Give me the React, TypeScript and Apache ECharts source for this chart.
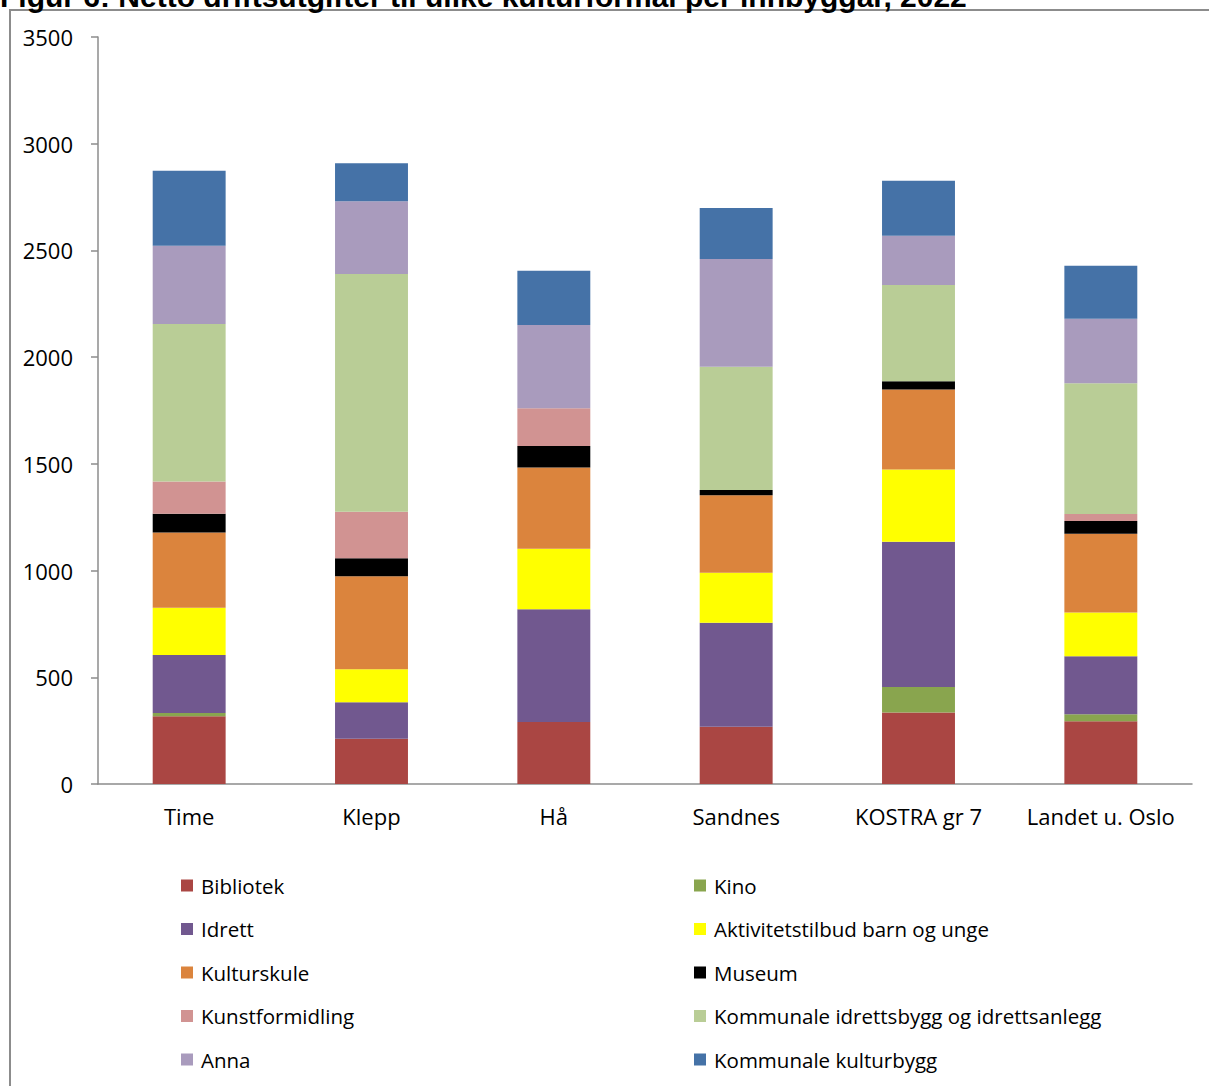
import React, { useEffect, useRef } from "react";
import * as echarts from "echarts";

const categories = ["Time", "Klepp", "Hå", "Sandnes", "KOSTRA gr 7", "Landet u. Oslo"];
const seriesNames = [
  "Bibliotek",
  "Kino",
  "Idrett",
  "Aktivitetstilbud barn og unge",
  "Kulturskule",
  "Museum",
  "Kunstformidling",
  "Kommunale idrettsbygg og idrettsanlegg",
  "Anna",
  "Kommunale kulturbygg",
];
const bibliotek = [317, 212, 291, 268, 335, 294];
const kino = [16, 0, 0, 0, 120, 33];
const idrett = [272, 171, 528, 488, 680, 271];
const aktivitet = [221, 155, 283, 234, 338, 206];
const kulturskule = [352, 435, 381, 363, 375, 368];
const museum = [88, 85, 101, 25, 39, 60];
const kunstformidling = [151, 218, 176, 0, 0, 33];
const idrettsbygg = [738, 1113, 0, 577, 451, 613];
const anna = [367, 342, 391, 505, 231, 302];
const kulturbygg = [351, 178, 254, 239, 258, 248];
const yTicks = [0, 500, 1000, 1500, 2000, 2500, 3000, 3500];
const title = "Figur 6: Netto driftsutgifter til ulike kulturformål per innbyggar, 2022";

const seriesData = [bibliotek, kino, idrett, aktivitet, kulturskule, museum, kunstformidling, idrettsbygg, anna, kulturbygg];
const colors = ["#AA4643", "#89A54E", "#71588F", "#FFFF00", "#DB843D", "#000000", "#D19392", "#B9CD96", "#A99BBD", "#4572A7"];

export default function App() {
  const ref = useRef<HTMLDivElement>(null);
  useEffect(() => {
    document.body.style.margin = "0";
    const chart = echarts.init(ref.current!, null, { renderer: "svg" });
    const font = "'Open Sans', sans-serif";
    const legendCommon = {
      orient: "vertical",
      icon: "rect",
      itemWidth: 12,
      itemHeight: 12,
      itemGap: 22.5,
      textStyle: { fontSize: 20.5, fontFamily: font, color: "#000", lineHeight: 20, padding: [0, 0, 0, 3] },
      selectedMode: false,
    };
    chart.setOption({
      animation: false,
      color: colors,
      graphic: [
        {
          type: "rect",
          shape: { x: 10, y: 10, width: 1220, height: 1100 },
          style: { fill: "none", stroke: "#8c8c8c", lineWidth: 2 },
          silent: true,
        },
        {
          type: "text",
          x: 0,
          y: 11,
          style: {
            text: title,
            font: "bold 30px 'Liberation Sans', Arial, sans-serif",
            fill: "#000",
            verticalAlign: "bottom",
          },
        },
      ],
      grid: { left: 98, top: 37, right: 17, bottom: 302 },
      legend: [
        { ...legendCommon, left: 176, top: 870, data: seriesNames.filter((_, i) => i % 2 === 0) },
        { ...legendCommon, left: 689, top: 870, data: seriesNames.filter((_, i) => i % 2 === 1) },
      ],
      xAxis: {
        type: "category",
        data: categories,
        axisLine: { lineStyle: { color: "#8c8c8c", width: 1.5 } },
        axisTick: { length: 7, lineStyle: { color: "#8c8c8c", width: 1.5 } },
        axisLabel: { fontSize: 22, fontFamily: font, color: "#000", margin: 21, interval: 0 },
      },
      yAxis: {
        type: "value",
        min: 0,
        max: 3500,
        interval: 500,
        axisLine: { show: true, lineStyle: { color: "#8c8c8c", width: 1.5 } },
        axisTick: { show: true, length: 7, lineStyle: { color: "#8c8c8c", width: 1.5 } },
        splitLine: { show: false },
        axisLabel: {
          fontSize: 22,
          fontFamily: font,
          color: "#000",
          margin: 25,
          formatter: (v: number) => (yTicks.includes(v) ? String(v) : ""),
        },
      },
      series: seriesNames.map((name, i) => ({
        name,
        type: "bar",
        stack: "total",
        barWidth: "40%",
        data: seriesData[i],
        itemStyle: { color: colors[i] },
      })),
    });
    return () => chart.dispose();
  }, []);
  return <div ref={ref} style={{ width: 1209, height: 1086 }} />;
}
